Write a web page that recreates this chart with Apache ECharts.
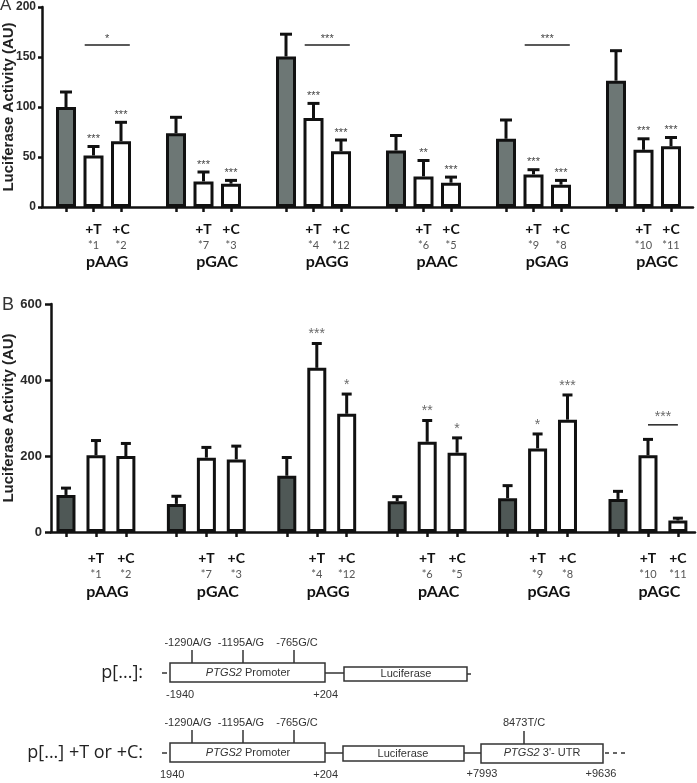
<!DOCTYPE html>
<html>
<head>
<meta charset="utf-8">
<script src="https://cdn.jsdelivr.net/npm/echarts@6/dist/echarts.min.js"></script>
<style>
  html, body { margin: 0; padding: 0; background: #fff; }
  #chart { width: 697px; height: 783px; }
</style>
</head>
<body>
<div id="chart"></div>
<script>
// constructs and variants
const groups = ['pAAG', 'pGAC', 'pAGG', 'pAAC', 'pGAG', 'pAGC']
const tagsT = ['*1', '*7', '*4', '*6', '*9', '*10']
const tagsC = ['*2', '*3', '*12', '*5', '*8', '*11']

// panel A (AU)
const aCtrl = [100, 73.7, 150.5, 56.5, 68.2, 126.3]
const aCtrlErr = [15, 16, 22.3, 15, 18.8, 30]
const aT = [51.5, 25.6, 89, 30.6, 32.6, 57.2]
const aTErr = [9, 9.4, 14.6, 15.9, 4.7, 11]
const aC = [65.8, 23.3, 55.8, 24.3, 22.3, 60.8]
const aCErr = [18.9, 3.3, 11.2, 5.6, 4.3, 8.7]
const aStarsT = ['***', '***', '***', '**', '***', '***']
const aStarsC = ['***', '***', '***', '***', '***', '***']
const aBrackets = [
  { group: 0, label: '*', y: 162 },
  { group: 2, label: '***', y: 162 },
  { group: 4, label: '***', y: 162 }
]

// panel B (AU)
const bCtrl = [97.5, 74, 148, 81, 89, 87]
const bCtrlErr = [18, 20, 48, 12, 33, 20]
const bT = [201.7, 195.6, 432, 237.4, 220, 201.7]
const bTErr = [39, 27, 64, 56, 38, 42]
const bC = [200, 191, 311, 208.7, 295.6, 30.4]
const bCErr = [33, 35, 52, 39, 65, 6]
const bStarsT = ['', '', '***', '**', '*', '']
const bStarsC = ['', '', '*', '*', '***', '']
const bBrackets = [
  { group: 5, label: '***', y: 282 }
]

const sansBold = 'Liberation Sans'
const labelFont = 'Lato'

function buildPanel(opts) {
  const off = opts.offsets
  const bars = []
  const errs = []
  const stars = []
  groups.forEach((g, k) => {
    const base = 4 * k
    bars.push({ value: [base + off[0], opts.ctrl[k]], itemStyle: { color: opts.gray } })
    bars.push({ value: [base + off[1], opts.t[k]], itemStyle: { color: '#fff' } })
    bars.push({ value: [base + off[2], opts.c[k]], itemStyle: { color: '#fff' } })
    errs.push([base + off[0], opts.ctrl[k], opts.ctrlErr[k]])
    errs.push([base + off[1], opts.t[k], opts.tErr[k]])
    errs.push([base + off[2], opts.c[k], opts.cErr[k]])
    stars.push('', opts.starsT[k], opts.starsC[k])
  })
  const tickPos = bars.map(b => b.value[0])
  const labelPos = []
  const labelTxt = []
  groups.forEach((g, k) => {
    labelPos.push(4 * k + off[1], 4 * k + off[2])
    labelTxt.push('{t|+T}\n{n|' + tagsT[k] + '}', '{t|+C}\n{n|' + tagsC[k] + '}')
  })
  const groupPos = groups.map((g, k) => 4 * k + 1.5)
  const brackets = opts.brackets.map(b => [
    4 * b.group + off[1] - opts.brExt, 4 * b.group + off[2] + opts.brExt, b.y
  ])
  return { bars, errs, stars, tickPos, labelPos, labelTxt, groupPos, brackets }
}

const A = buildPanel({
  offsets: [0, 1, 2], gray: '#6d7775',
  ctrl: aCtrl, ctrlErr: aCtrlErr, t: aT, tErr: aTErr, c: aC, cErr: aCErr,
  starsT: aStarsT, starsC: aStarsC, brackets: aBrackets, brExt: 0.32
})
const B = buildPanel({
  offsets: [0, 1.087, 2.17], gray: '#4f5856',
  ctrl: bCtrl, ctrlErr: bCtrlErr, t: bT, tErr: bTErr, c: bC, cErr: bCErr,
  starsT: bStarsT, starsC: bStarsC, brackets: bBrackets, brExt: 0
})

function errRender(stars, font, color, capHalf) {
  return function (params, api) {
    const x = api.value(0)
    const m = api.value(1)
    const e = api.value(2)
    const p0 = api.coord([x, m])
    const p1 = api.coord([x, m + e])
    const st = { stroke: '#111', lineWidth: 3 }
    const children = [
      { type: 'line', shape: { x1: p0[0], y1: p0[1], x2: p1[0], y2: p1[1] }, style: st },
      { type: 'line', shape: { x1: p1[0] - capHalf, y1: p1[1], x2: p1[0] + capHalf, y2: p1[1] }, style: st }
    ]
    const s = stars[params.dataIndex]
    if (s) {
      children.push({
        type: 'text', x: p1[0], y: p1[1] - 2,
        style: { text: s, align: 'center', verticalAlign: 'bottom', font: font, fill: color }
      })
    }
    return { type: 'group', children }
  }
}

function bracketRender(labels, font, color) {
  return function (params, api) {
    const a = api.coord([api.value(0), api.value(2)])
    const b = api.coord([api.value(1), api.value(2)])
    return {
      type: 'group',
      children: [
        { type: 'line', shape: { x1: a[0], y1: a[1], x2: b[0], y2: b[1] }, style: { stroke: '#222', lineWidth: 1.5 } },
        {
          type: 'text', x: (a[0] + b[0]) / 2, y: a[1] - 1,
          style: { text: labels[params.dataIndex], align: 'center', verticalAlign: 'bottom', font: font, fill: color }
        }
      ]
    }
  }
}

function findLabel(P, value) {
  for (let i = 0; i < P.labelPos.length; i++) {
    if (Math.abs(P.labelPos[i] - value) < 1e-6) return P.labelTxt[i]
  }
  return ''
}
function findGroup(P, value) {
  for (let i = 0; i < P.groupPos.length; i++) {
    if (Math.abs(P.groupPos[i] - value) < 1e-6) return groups[i]
  }
  return ''
}

function xAxes(P, gridIndex, min, max, margin, groupMargin) {
  return [
    {
      type: 'value', gridIndex, min, max,
      splitLine: { show: false },
      axisLine: { onZero: false, lineStyle: { color: '#111', width: 2.5 } },
      axisTick: { customValues: P.tickPos, length: 5, lineStyle: { color: '#111', width: 2.5 } },
      axisLabel: {
        customValues: P.labelPos,
        margin: margin,
        formatter: v => findLabel(P, v),
        rich: {
          t: { fontFamily: labelFont, fontWeight: 'bold', fontSize: 14, color: '#111', lineHeight: 16 },
          n: { fontFamily: labelFont, fontSize: 11, color: '#555', lineHeight: 16 }
        }
      }
    },
    {
      type: 'value', gridIndex, min, max, position: 'bottom',
      splitLine: { show: false },
      axisLine: { show: false, onZero: false },
      axisTick: { show: false },
      axisLabel: {
        customValues: P.groupPos,
        margin: groupMargin,
        formatter: v => findGroup(P, v),
        fontFamily: labelFont, fontWeight: 'bold', fontSize: 16, color: '#111'
      }
    }
  ]
}

function yAxis(gridIndex, max, interval, tick, margin, gap, fs) {
  return {
    type: 'value', gridIndex, min: 0, max, interval,
    name: 'Luciferase Activity (AU)',
    nameLocation: 'middle', nameGap: gap, nameMoveOverlap: false,
    nameTextStyle: { fontFamily: sansBold, fontWeight: 'bold', fontSize: 15, color: '#222' },
    splitLine: { show: false },
    axisLine: { show: true, onZero: false, lineStyle: { color: '#111', width: 2.5 } },
    axisTick: { show: true, length: tick, lineStyle: { color: '#111', width: 2.5 } },
    axisLabel: { margin, fontFamily: sansBold, fontWeight: 'bold', fontSize: fs, color: '#2a2a2a' }
  }
}

// schematic of the reporter constructs (drawn as graphics)
const stroke = { stroke: '#333', lineWidth: 1.5 }
const small = (text, x, y, align) => ({
  type: 'text', x, y,
  style: { text, align: align || 'center', verticalAlign: 'middle', font: '11px "Liberation Sans"', fill: '#333' }
})
const rich = {
  i: { fontStyle: 'italic', fontSize: 11, fontFamily: 'Liberation Sans', fill: '#333' },
  r: { fontSize: 11, fontFamily: 'Liberation Sans', fill: '#333' }
}
const line = (x1, y1, x2, y2, extra) => ({ type: 'line', shape: { x1, y1, x2, y2 }, style: Object.assign({}, stroke, extra || {}) })
const box = (x, y, w, h) => ({ type: 'rect', shape: { x, y, width: w, height: h }, style: { fill: '#fff', stroke: '#333', lineWidth: 1.5 } })

function promoterRow(cy, labelY, posY, startLabel, startX) {
  const top = cy - 10
  return [
    line(162, cy, 167, cy),
    box(170, top, 155, 19),
    { type: 'text', x: 248, y: cy, style: { text: '{i|PTGS2}{r| Promoter}', rich, align: 'center', verticalAlign: 'middle' } },
    line(192, top - 13, 192, top),
    line(243, top - 13, 243, top),
    line(294, top - 13, 294, top),
    small('-1290A/G', 188, labelY),
    small('-1195A/G', 241, labelY),
    small('-765G/C', 297, labelY),
    small(startLabel, startX, posY, 'left'),
    small('+204', 338, posY, 'right'),
    line(325, cy, 344, cy)
  ]
}

const graphics = [].concat(
  [
    { type: 'text', x: 143, y: 673, style: { text: 'p[...]:', align: 'right', verticalAlign: 'middle', font: '18px "Open Sans"', fill: '#222' } },
    { type: 'text', x: 143, y: 753, style: { text: 'p[...] +T or +C:', align: 'right', verticalAlign: 'middle', font: '18px "Open Sans"', fill: '#222' } }
  ],
  promoterRow(673, 643, 695, '-1940', 166),
  [
    box(344, 667, 123, 14),
    small('Luciferase', 406, 674),
    line(467, 674, 471, 674)
  ],
  promoterRow(753, 723, 775, '1940', 160),
  [
    box(343, 746, 121, 15),
    small('Luciferase', 403, 754),
    line(464, 753, 481, 753),
    box(481, 744, 122, 19),
    { type: 'text', x: 542, y: 753, style: { text: '{i|PTGS2}{r| 3\'- UTR}', rich, align: 'center', verticalAlign: 'middle' } },
    line(524, 731, 524, 744),
    small('8473T/C', 524, 723),
    line(605, 753, 628, 753, { lineDash: [4, 4] }),
    small('+7993', 482, 774),
    small('+9636', 601, 774)
  ],
  [
    { type: 'text', x: 0, y: 5, style: { text: 'A', verticalAlign: 'middle', font: '17px "Liberation Sans"', fill: '#333' } },
    { type: 'text', x: 2, y: 305, style: { text: 'B', verticalAlign: 'middle', font: '18px "Liberation Sans"', fill: '#333' } }
  ]
)

const chart = echarts.init(document.getElementById('chart'))
const option = {
  animation: false,
  backgroundColor: '#fff',
  grid: [
    { left: 42, right: 4, top: 7, height: 200, containLabel: false, outerBoundsMode: 'none' },
    { left: 51, right: 2, top: 304, height: 228, containLabel: false, outerBoundsMode: 'none' }
  ],
  xAxis: [].concat(
    xAxes(A, 0, -0.873, 22.8, 14, 47),
    xAxes(B, 1, -0.543, 22.79, 18, 52)
  ),
  yAxis: [
    yAxis(0, 200, 50, 4, 6, 26, 12),
    yAxis(1, 600, 200, 6, 9, 35, 13)
  ],
  series: [
    {
      type: 'bar', xAxisIndex: 0, yAxisIndex: 0, barWidth: 20,
      itemStyle: { borderColor: '#111', borderWidth: 3 },
      data: A.bars
    },
    {
      type: 'custom', xAxisIndex: 0, yAxisIndex: 0,
      encode: { x: 0, y: 1 },
      renderItem: errRender(A.stars, '11px "Liberation Sans"', '#444', 6),
      data: A.errs, z: 3
    },
    {
      type: 'custom', xAxisIndex: 0, yAxisIndex: 0,
      encode: { x: [0, 1], y: 2 },
      renderItem: bracketRender(aBrackets.map(b => b.label), '11px "Liberation Sans"', '#444'),
      data: A.brackets, z: 3
    },
    {
      type: 'bar', xAxisIndex: 2, yAxisIndex: 1, barWidth: 19,
      itemStyle: { borderColor: '#111', borderWidth: 3 },
      data: B.bars
    },
    {
      type: 'custom', xAxisIndex: 2, yAxisIndex: 1,
      encode: { x: 0, y: 1 },
      renderItem: errRender(B.stars, '14px "Liberation Sans"', '#6a6a6a', 5),
      data: B.errs, z: 3
    },
    {
      type: 'custom', xAxisIndex: 2, yAxisIndex: 1,
      encode: { x: [0, 1], y: 2 },
      renderItem: bracketRender(bBrackets.map(b => b.label), '14px "Liberation Sans"', '#6a6a6a'),
      data: B.brackets, z: 3
    }
  ],
  graphic: graphics
}
chart.setOption(option)
</script>
</body>
</html>
